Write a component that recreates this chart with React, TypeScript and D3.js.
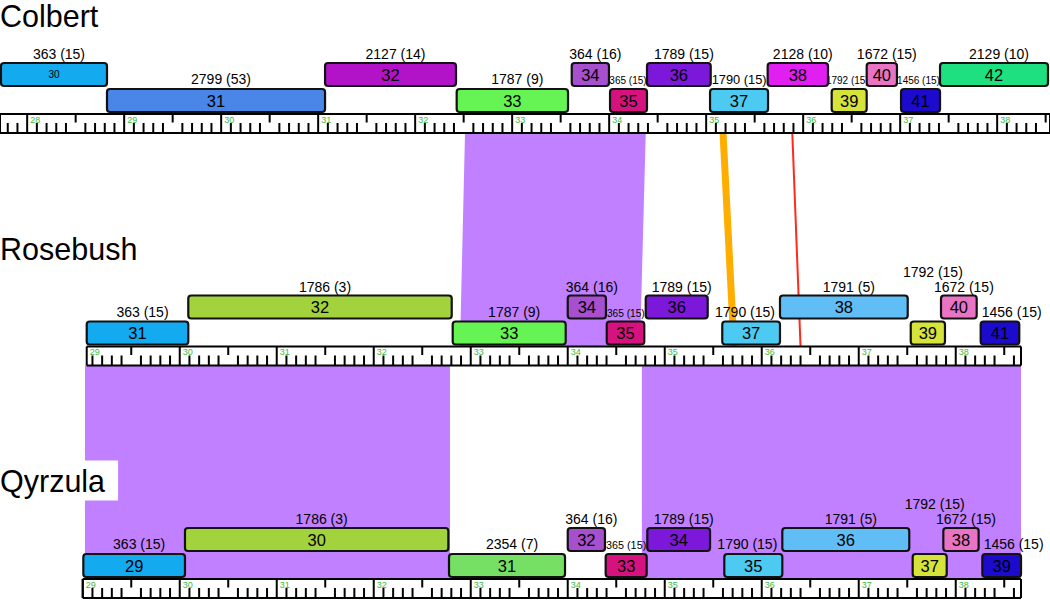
import React from "react";
import * as d3 from "d3";

const WIDTH = 1050;
const HEIGHT = 600;

// ---------- data ----------
const trackNames = ["Colbert", "Rosebush", "Qyrzula"];
const trackViewStart = [27.72, 28.147, 28.147];
const rulerStart = [27.72, 29.041, 29.0];
const rulerEnd = [38.545, 38.673, 38.673];

const colbertIds = [30, 31, 32, 33, 34, 35, 36, 37, 38, 39, 40, 41, 42];
const colbertStart = [27.73, 28.823, 31.071, 32.428, 33.614, 34.009, 34.39, 35.04, 35.634, 36.294, 36.655, 37.009, 37.411];
const colbertEnd = [28.823, 31.071, 32.421, 33.576, 33.998, 34.39, 35.047, 35.638, 36.256, 36.655, 36.967, 37.411, 38.524];
const colbertFamily = [363, 2799, 2127, 1787, 364, 365, 1789, 1790, 2128, 1792, 1672, 1456, 2129];
const colbertCount = [15, 53, 14, 9, 16, 15, 15, 15, 10, 15, 15, 15, 10];

const rosebushIds = [31, 32, 33, 34, 35, 36, 37, 38, 39, 40, 41];
const rosebushStart = [29.041, 30.088, 32.814, 34.0, 34.402, 34.804, 35.593, 36.188, 37.536, 37.848, 38.257];
const rosebushEnd = [30.088, 32.804, 33.979, 34.394, 34.789, 35.443, 36.188, 37.505, 37.889, 38.216, 38.655];
const rosebushFamily = [363, 1786, 1787, 364, 365, 1789, 1790, 1791, 1792, 1672, 1456];
const rosebushCount = [15, 3, 9, 16, 15, 15, 15, 5, 15, 15, 15];

const qyrzulaIds = [29, 30, 31, 32, 33, 34, 35, 36, 37, 38, 39];
const qyrzulaStart = [29.006, 30.054, 32.776, 34.0, 34.391, 34.82, 35.614, 36.212, 37.556, 37.872, 38.274];
const qyrzulaEnd = [30.054, 32.769, 33.972, 34.384, 34.814, 35.467, 36.212, 37.521, 37.907, 38.236, 38.673];
const qyrzulaFamily = [363, 1786, 2354, 364, 365, 1789, 1790, 1791, 1792, 1672, 1456];
const qyrzulaCount = [15, 3, 7, 16, 15, 15, 15, 5, 15, 15, 15];

const familyIds = [363, 2799, 2127, 1787, 364, 365, 1789, 1790, 2128, 1792, 1672, 1456, 2129, 1786, 1791, 2354];
const familyColors = ["#14aaf0", "#4a86e8", "#b213c8", "#66f455", "#a64fcf", "#d6127e", "#7b18da", "#4dcaf2", "#e01ff0", "#d5e33b", "#e874c3", "#1c0bcc", "#1fe080", "#a3d33c", "#60bdf5", "#75e063"];

// synteny ribbons (track index, from-range, to-range in each track's units)
const ribbonFrom = [0, 1, 1];
const ribbonTo = [1, 2, 2];
const ribbonFromStart = [32.514, 29.023, 34.764];
const ribbonFromEnd = [34.377, 32.786, 38.673];
const ribbonToStart = [32.889, 29.023, 34.764];
const ribbonToEnd = [34.745, 32.786, 38.673];

// point links
const linkFrom = [0, 0];
const linkTo = [1, 1];
const linkFromPos = [35.174, 35.888];
const linkToPos = [35.714, 36.4];
const linkKind = ["strong", "weak"];

// ---------- layout / style ----------
const FONT = '"Liberation Sans", Arial, Helvetica, sans-serif';
const TRACK_DY = 232.5;
const ROW0_TOP = 63;
const ROW_H = 23;
const ROW_STEP = 26;
const RULER_TOP = 114;
const RULER_H = 19;
const TITLE_BASE = 27;
const TITLE_FS = 30.5;
const RIBBON_COLOR = "#c080ff";
const TICK_W = 2;
const linkStyle: Record<string, { color: string; width: number }> = {
  strong: { color: "#ffae00", width: 7 },
  weak: { color: "#ff2a1a", width: 2 },
};

const x = d3.scaleLinear().domain([0, WIDTH / 97]).range([0, WIDTH]);
const X = (t: number, u: number) => x(u - trackViewStart[t]);
const color = d3.scaleOrdinal<number, string>().domain(familyIds).range(familyColors);

let measureCtx: CanvasRenderingContext2D | null = null;
function textWidth(s: string, fs: number) {
  if (!measureCtx && typeof document !== "undefined") {
    measureCtx = document.createElement("canvas").getContext("2d");
  }
  if (!measureCtx) return s.length * fs * 0.55;
  measureCtx.font = `${fs}px ${FONT}`;
  return measureCtx.measureText(s).width;
}

const trackData = [
  { ids: colbertIds, starts: colbertStart, ends: colbertEnd, fam: colbertFamily, cnt: colbertCount },
  { ids: rosebushIds, starts: rosebushStart, ends: rosebushEnd, fam: rosebushFamily, cnt: rosebushCount },
  { ids: qyrzulaIds, starts: qyrzulaStart, ends: qyrzulaEnd, fam: qyrzulaFamily, cnt: qyrzulaCount },
];

type Box = { x0: number; x1: number; y0: number; y1: number };

function layoutTrack(t: number) {
  const d = trackData[t];
  const top0 = ROW0_TOP + t * TRACK_DY;
  const blocks = d.ids.map((id, i) => {
    const row = id % 2 === 1 ? 1 : 0;
    const x0 = X(t, d.starts[i]);
    const x1 = X(t, d.ends[i]);
    const y0 = top0 + row * ROW_STEP;
    return {
      id,
      row,
      x0,
      x1,
      y0,
      y1: y0 + ROW_H,
      label: `${d.fam[i]} (${d.cnt[i]})`,
      fill: color(d.fam[i]),
    };
  });
  const placed: Box[] = [];
  const labels: { text: string; x: number; y: number; fs: number }[] = [];
  const boxFor = (cx: number, w: number, base: number): Box => ({ x0: cx - w / 2, x1: cx + w / 2, y0: base - 11, y1: base + 3 });
  const collides = (b: Box) => placed.some((p) => b.x0 < p.x1 + 2 && b.x1 > p.x0 - 2 && b.y0 < p.y1 && b.y1 > p.y0);
  const put = (text: string, cx: number, base: number, fs: number) => {
    const w = textWidth(text, fs);
    placed.push(boxFor(cx, w, base));
    labels.push({ text, x: cx, y: base, fs });
  };
  const upper = blocks.filter((b) => b.row === 0);
  upper.forEach((b) => {
    const w = textWidth(b.label, 14);
    const cx = (b.x0 + b.x1) / 2 + 5;
    let base = b.y0 - 4;
    while (collides(boxFor(cx, w, base))) base -= 15;
    put(b.label, cx, base, 14);
  });
  blocks
    .filter((b) => b.row === 1)
    .forEach((b) => {
      const c = (b.x0 + b.x1) / 2;
      const gapL = d3.max(upper.filter((o) => (o.x0 + o.x1) / 2 < c), (o) => o.x1) ?? -Infinity;
      const gapR = d3.min(upper.filter((o) => (o.x0 + o.x1) / 2 > c), (o) => o.x0) ?? Infinity;
      const w = textWidth(b.label, 14);
      const base0 = b.y0 - 5;
      const gap = gapR - gapL;
      const pad = 5;
      if (gap >= w + 2 * pad) {
        const cx = Math.min(Math.max(c + 5, gapL + pad + w / 2), gapR - pad - w / 2);
        put(b.label, cx, base0, 14);
      } else {
        const fitted = (14 * (gap - 2)) / w;
        if (fitted >= 8) {
          put(b.label, (gapL + gapR) / 2, base0, Math.max(10, Math.min(14, fitted)));
        } else {
          const cx = c + 5;
          let base = top0 - 4;
          while (collides(boxFor(cx, w, base))) base -= 15;
          put(b.label, cx, base, 14);
        }
      }
    });
  return { blocks, labels };
}

function Ruler({ t }: { t: number }) {
  const top = RULER_TOP + t * TRACK_DY;
  const bot = top + RULER_H;
  const s = rulerStart[t];
  const e = rulerEnd[t];
  const rx0 = X(t, s);
  const rx1 = X(t, e);
  const ks = d3.range(Math.ceil(s * 10 - 1e-6), Math.floor(e * 10 + 1e-6) + 1);
  const edgeInt = Math.round(s);
  const showEdgeLabel = Math.abs(s - edgeInt) < 0.06 && !ks.includes(edgeInt * 10);
  return (
    <g>
      <rect x={rx0} y={top} width={rx1 - rx0} height={RULER_H} fill="#fff" />
      {ks.map((k) => {
        const xx = X(t, k / 10);
        if (k % 10 === 0) {
          return (
            <g key={k}>
              <line x1={xx} x2={xx} y1={top} y2={bot} stroke="#000" strokeWidth={TICK_W} />
              <text x={xx + 3} y={top + 8.5} fontSize={9} fill="#3cba3c">
                {k / 10}
              </text>
            </g>
          );
        }
        if (k % 5 === 0) return <line key={k} x1={xx} x2={xx} y1={top} y2={top + 8.5} stroke="#000" strokeWidth={TICK_W} />;
        return <line key={k} x1={xx} x2={xx} y1={bot - 10} y2={bot} stroke="#000" strokeWidth={TICK_W} />;
      })}
      <line x1={rx0} x2={rx0} y1={top} y2={bot} stroke="#000" strokeWidth={TICK_W} />
      <line x1={rx1} x2={rx1} y1={top} y2={bot} stroke="#000" strokeWidth={TICK_W} />
      {showEdgeLabel && (
        <text x={rx0 + 3} y={top + 8.5} fontSize={9} fill="#3cba3c">
          {edgeInt}
        </text>
      )}
      <line x1={rx0} x2={rx1} y1={top} y2={top} stroke="#000" strokeWidth={2.2} />
      <line x1={rx0} x2={rx1} y1={bot} y2={bot} stroke="#000" strokeWidth={2.2} />
    </g>
  );
}

export default function App() {
  const tracks = [0, 1, 2].map(layoutTrack);
  const line = d3.line<[number, number]>();
  const rulerBottom = (t: number) => RULER_TOP + t * TRACK_DY + RULER_H;
  const rulerTopY = (t: number) => RULER_TOP + t * TRACK_DY;

  return (
    <svg
      width={WIDTH}
      height={HEIGHT}
      style={{ position: "absolute", left: 0, top: 0, display: "block" }}
      fontFamily={FONT}
    >
      <rect width={WIDTH} height={HEIGHT} fill="#fff" />
      {ribbonFrom.map((a, i) => {
        const b = ribbonTo[i];
        const pts: [number, number][] = [
          [X(a, ribbonFromStart[i]), rulerBottom(a)],
          [X(a, ribbonFromEnd[i]), rulerBottom(a)],
          [X(b, ribbonToEnd[i]), rulerTopY(b)],
          [X(b, ribbonToStart[i]), rulerTopY(b)],
        ];
        return <path key={"r" + i} d={(line(pts) || "") + "Z"} fill={RIBBON_COLOR} />;
      })}
      {linkFrom.map((a, i) => {
        const b = linkTo[i];
        const st = linkStyle[linkKind[i]];
        return (
          <line
            key={"l" + i}
            x1={X(a, linkFromPos[i])}
            y1={rulerBottom(a)}
            x2={X(b, linkToPos[i])}
            y2={rulerTopY(b)}
            stroke={st.color}
            strokeWidth={st.width}
          />
        );
      })}
      {tracks.map((tr, t) => {
        const tb = TITLE_BASE + t * TRACK_DY;
        const tw = textWidth(trackNames[t], TITLE_FS);
        return (
          <g key={"t" + t}>
            <rect x={0} y={tb - 31.5} width={tw + 13} height={40} fill="#fff" />
            <text x={0} y={tb} fontSize={TITLE_FS} fill="#000">
              {trackNames[t]}
            </text>
            {tr.labels.map((l, i) => (
              <text key={"lab" + i} x={l.x} y={l.y} fontSize={l.fs} textAnchor="middle" fill="#000">
                {l.text}
              </text>
            ))}
            {tr.blocks.map((b) => {
              const small = b.x0 < 5;
              return (
                <g key={"b" + b.id}>
                  <rect
                    x={b.x0}
                    y={b.y0}
                    width={b.x1 - b.x0}
                    height={ROW_H}
                    rx={3}
                    fill={b.fill}
                    stroke="#111"
                    strokeWidth={2.2}
                  />
                  <text
                    x={(b.x0 + b.x1) / 2}
                    y={(b.y0 + b.y1) / 2 + (small ? 3.5 : 6)}
                    fontSize={small ? 10 : 16.5}
                    textAnchor="middle"
                    fill="#000"
                  >
                    {b.id}
                  </text>
                </g>
              );
            })}
            <Ruler t={t} />
          </g>
        );
      })}
    </svg>
  );
}
